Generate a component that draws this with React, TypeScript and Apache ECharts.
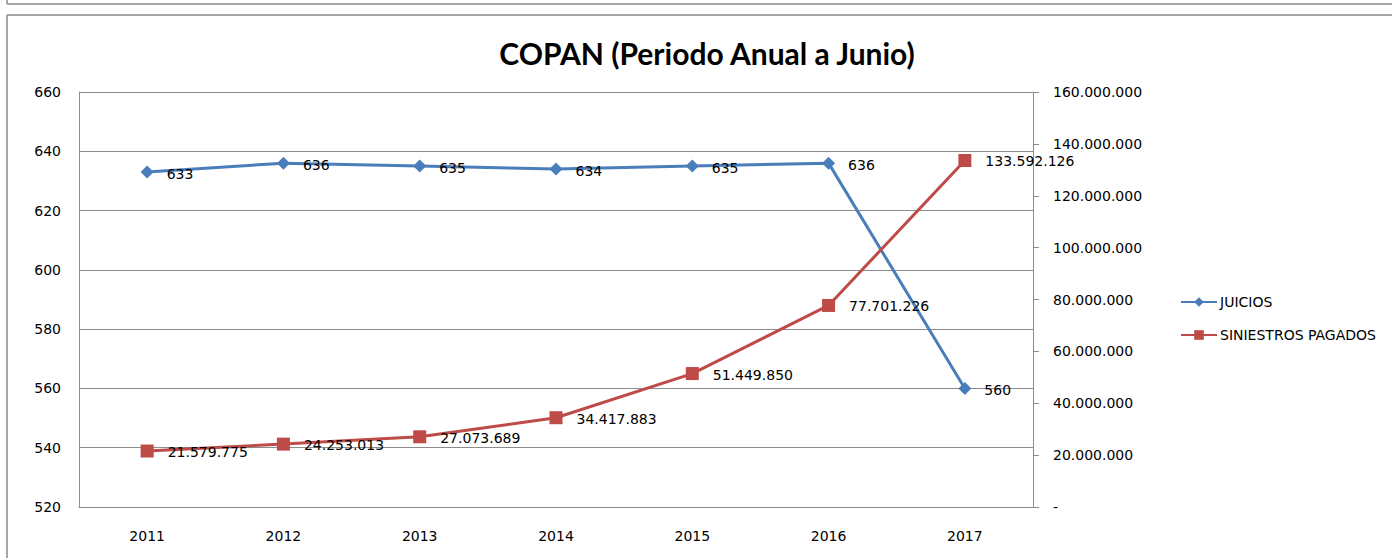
import React, { useEffect, useRef } from "react";
import * as echarts from "echarts";

const categories = ["2011", "2012", "2013", "2014", "2015", "2016", "2017"];
const juicios = [633, 636, 635, 634, 635, 636, 560];
const siniestros = [21579775, 24253013, 27073689, 34417883, 51449850, 77701226, 133592126];
const titleText = "COPAN (Periodo Anual a Junio)";
const seriesNames = ["JUICIOS", "SINIESTROS PAGADOS"];

const dots = (v: number) => {
  if (v === 0) return "-";
  return String(Math.round(v)).replace(/\B(?=(\d{3})+(?!\d))/g, ".");
};

const FONT = "DejaVu Sans";

export default function App() {
  const ref = useRef<HTMLDivElement>(null);
  useEffect(() => {
    if (!ref.current) return;
    const chart = echarts.init(ref.current, null, { renderer: "svg" });
    chart.setOption({
      animation: false,
      backgroundColor: "#ffffff",
      title: {
        text: titleText,
        left: 702,
        textAlign: "center",
        top: 33,
        textStyle: { fontFamily: "Lato", fontWeight: "bold", fontSize: 30, color: "#000" },
      },
      graphic: [
        { type: "line", shape: { x1: 7, y1: 0, x2: 7, y2: 4 }, style: { stroke: "#a6a6a6", lineWidth: 2 } },
        { type: "line", shape: { x1: 7, y1: 4, x2: 1400, y2: 4 }, style: { stroke: "#a6a6a6", lineWidth: 2 } },
        { type: "line", shape: { x1: 7, y1: 15, x2: 1400, y2: 15 }, style: { stroke: "#a6a6a6", lineWidth: 2 } },
        { type: "line", shape: { x1: 7, y1: 15, x2: 7, y2: 560 }, style: { stroke: "#a6a6a6", lineWidth: 2 } },
      ],
      legend: {
        orient: "vertical",
        left: 1175,
        top: 290,
        itemGap: 19,
        itemWidth: 36,
        itemHeight: 12,
        textStyle: { fontFamily: FONT, fontSize: 14, color: "#000", padding: [0, 0, 0, -2] },
        data: seriesNames,
      },
      grid: { left: 79, right: 359, top: 92, bottom: 51, containLabel: false },
      xAxis: {
        type: "category",
        data: categories,
        boundaryGap: true,
        axisLine: { lineStyle: { color: "#8c8c8c", width: 1 } },
        axisTick: { show: false },
        axisLabel: { margin: 22, fontFamily: FONT, fontSize: 14, color: "#000" },
      },
      yAxis: [
        {
          type: "value",
          min: 520,
          max: 660,
          interval: 20,
          position: "left",
          axisLine: { show: true, lineStyle: { color: "#8c8c8c", width: 1 } },
          axisTick: { show: false },
          splitLine: { show: true, lineStyle: { color: "#8c8c8c", width: 1 } },
          axisLabel: { margin: 18, fontFamily: FONT, fontSize: 14, color: "#000" },
        },
        {
          type: "value",
          min: 0,
          max: 160000000,
          interval: 20000000,
          position: "right",
          axisLine: { show: true, lineStyle: { color: "#8c8c8c", width: 1 } },
          axisTick: { show: true, length: 6, lineStyle: { color: "#8c8c8c" } },
          splitLine: { show: false },
          axisLabel: { margin: 20, fontFamily: FONT, fontSize: 14, color: "#000", formatter: (v: number) => dots(v) },
        },
      ],
      series: [
        {
          name: seriesNames[0],
          type: "line",
          yAxisIndex: 0,
          data: juicios,
          symbol: "diamond",
          symbolSize: 13,
          color: "#4a7ebb",
          lineStyle: { width: 3, color: "#4a7ebb" },
          itemStyle: { color: "#4a7ebb" },
          label: {
            show: true,
            position: "right",
            distance: 13,
            offset: [0, 2],
            fontFamily: FONT,
            fontSize: 14,
            color: "#000",
          },
        },
        {
          name: seriesNames[1],
          type: "line",
          yAxisIndex: 1,
          data: siniestros,
          symbol: "rect",
          symbolSize: 13,
          color: "#be4b48",
          lineStyle: { width: 3, color: "#be4b48" },
          itemStyle: { color: "#be4b48" },
          label: {
            show: true,
            position: "right",
            distance: 14,
            offset: [0, 1],
            fontFamily: FONT,
            fontSize: 14,
            color: "#000",
            formatter: (p: any) => dots(p.value),
          },
        },
      ],
    });
    return () => chart.dispose();
  }, []);
  return (
    <div
      ref={ref}
      style={{ position: "absolute", left: 0, top: 0, width: 1392, height: 558, background: "#fff" }}
    />
  );
}
